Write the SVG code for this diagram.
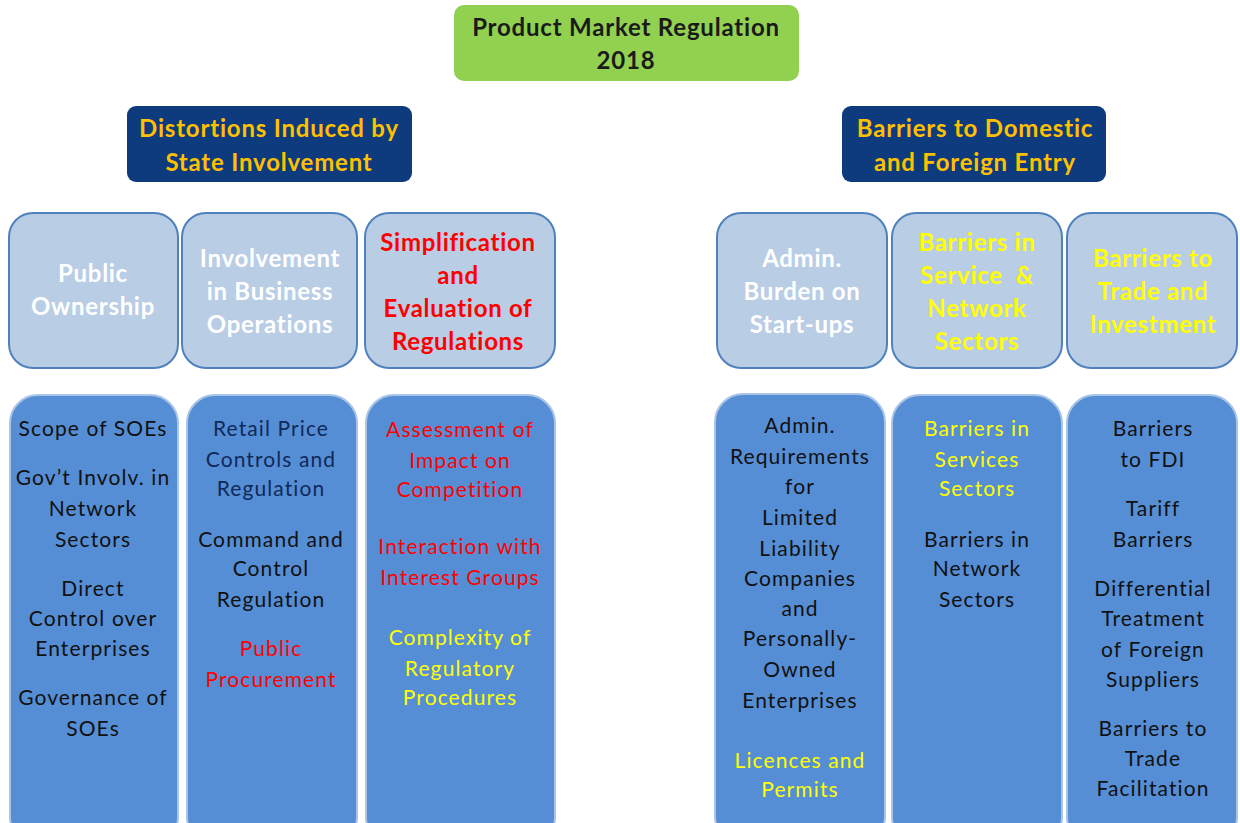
<svg xmlns="http://www.w3.org/2000/svg" width="1240" height="823" viewBox="0 0 1240 823">
<style>
text{font-family:Lato,"Liberation Sans",sans-serif;text-anchor:middle}
.t{font-size:24px;font-weight:bold;fill:#1a1a1a;letter-spacing:0.8px}
.h{font-size:24px;font-weight:bold;fill:#FFC000;letter-spacing:0.8px}
.m{font-size:24px;font-weight:bold;letter-spacing:0.7px}
.b{font-size:21px;letter-spacing:1.1px}
.hdr{fill:#0E3A7E}
.mid{fill:#B9CDE5;stroke:#4F81BD;stroke-width:2}
.bot{fill:#558ED5;stroke:#A9C4E6;stroke-width:2}
.w{fill:#ffffff}.r{fill:#FF0000}.y{fill:#FFFF00}.k{fill:#111111}.n{fill:#10295A}
</style>
<rect width="1240" height="823" fill="#ffffff"/>
<g id="title"><rect x="454" y="5" width="345" height="76" rx="10" fill="#92D050"/>
<text class="t" x="626" y="36">Product Market Regulation</text><text class="t" x="626" y="69">2018</text></g>
<g id="hdr-left"><rect class="hdr" x="127" y="106" width="285" height="76" rx="9"/>
<text class="h" x="269" y="137">Distortions Induced by</text><text class="h" x="269" y="171">State Involvement</text></g>
<g id="hdr-right"><rect class="hdr" x="842" y="106" width="264" height="76" rx="9"/>
<text class="h" x="975" y="137">Barriers to Domestic</text><text class="h" x="975" y="171">and Foreign Entry</text></g>

<g id="mid-public"><rect class="mid" x="9" y="213" width="169" height="155" rx="24"/>
<text class="m w" x="93" y="282">Public</text><text class="m w" x="93" y="315">Ownership</text></g>
<g id="mid-involvement"><rect class="mid" x="182" y="213" width="175" height="155" rx="24"/>
<text class="m w" x="270" y="267">Involvement</text><text class="m w" x="270" y="300">in Business</text><text class="m w" x="270" y="333">Operations</text></g>
<g id="mid-simplification"><rect class="mid" x="365" y="213" width="190" height="155" rx="24"/>
<text class="m r" x="458" y="251">Simplification</text><text class="m r" x="458" y="284">and</text><text class="m r" x="458" y="317">Evaluation of</text><text class="m r" x="458" y="350">Regulations</text></g>
<g id="mid-admin"><rect class="mid" x="717" y="213" width="170" height="155" rx="24"/>
<text class="m w" x="802" y="267">Admin.</text><text class="m w" x="802" y="300">Burden on</text><text class="m w" x="802" y="333">Start-ups</text></g>
<g id="mid-service"><rect class="mid" x="892" y="213" width="170" height="155" rx="24"/>
<text class="m y" x="977" y="251">Barriers in</text><text class="m y" x="977" y="284" xml:space="preserve">Service  &amp;</text><text class="m y" x="977" y="317">Network</text><text class="m y" x="977" y="350">Sectors</text></g>
<g id="mid-trade"><rect class="mid" x="1067" y="213" width="170" height="155" rx="24"/>
<text class="m y" x="1153" y="267">Barriers to</text><text class="m y" x="1153" y="300">Trade and</text><text class="m y" x="1153" y="333">Investment</text></g>

<g id="bot-public"><rect class="bot" x="10" y="395" width="168" height="450" rx="28"/>
<g class="b k"><text x="93" y="436">Scope of SOEs</text><text x="93" y="485">Gov’t Involv. in</text><text x="93" y="516">Network</text><text x="93" y="547">Sectors</text><text x="93" y="596">Direct</text><text x="93" y="626">Control over</text><text x="93" y="656">Enterprises</text><text x="93" y="705">Governance of</text><text x="93" y="736">SOEs</text></g></g>
<g id="bot-involvement"><rect class="bot" x="187" y="395" width="170" height="450" rx="28"/>
<g class="b"><text class="n" x="271" y="436">Retail Price</text><text class="n" x="271" y="467">Controls and</text><text class="n" x="271" y="496">Regulation</text><text class="k" x="271" y="547">Command and</text><text class="k" x="271" y="576">Control</text><text class="k" x="271" y="607">Regulation</text><text class="r" x="271" y="656">Public</text><text class="r" x="271" y="687">Procurement</text></g></g>
<g id="bot-simplification"><rect class="bot" x="366" y="395" width="189" height="450" rx="28"/>
<g class="b"><text class="r" x="460" y="437">Assessment of</text><text class="r" x="460" y="468">Impact on</text><text class="r" x="460" y="497">Competition</text><text class="r" x="460" y="554">Interaction with</text><text class="r" x="460" y="585">Interest Groups</text><text class="y" x="460" y="645">Complexity of</text><text class="y" x="460" y="676">Regulatory</text><text class="y" x="460" y="705">Procedures</text></g></g>
<g id="bot-admin"><rect class="bot" x="715" y="394" width="170" height="450" rx="28"/>
<g class="b"><text class="k" x="800" y="433">Admin.</text><text class="k" x="800" y="464">Requirements</text><text class="k" x="800" y="494">for</text><text class="k" x="800" y="525">Limited</text><text class="k" x="800" y="556">Liability</text><text class="k" x="800" y="586">Companies</text><text class="k" x="800" y="616">and</text><text class="k" x="800" y="646">Personally-</text><text class="k" x="800" y="677">Owned</text><text class="k" x="800" y="708">Enterprises</text><text class="y" x="800" y="768">Licences and</text><text class="y" x="800" y="797">Permits</text></g></g>
<g id="bot-service"><rect class="bot" x="892" y="395" width="170" height="450" rx="28"/>
<g class="b"><text class="y" x="977" y="436">Barriers in</text><text class="y" x="977" y="467">Services</text><text class="y" x="977" y="496">Sectors</text><text class="k" x="977" y="547">Barriers in</text><text class="k" x="977" y="576">Network</text><text class="k" x="977" y="607">Sectors</text></g></g>
<g id="bot-trade"><rect class="bot" x="1067" y="395" width="170" height="450" rx="28"/>
<g class="b k"><text x="1153" y="436">Barriers</text><text x="1153" y="467">to FDI</text><text x="1153" y="516">Tariff</text><text x="1153" y="547">Barriers</text><text x="1153" y="596">Differential</text><text x="1153" y="626">Treatment</text><text x="1153" y="657">of Foreign</text><text x="1153" y="687">Suppliers</text><text x="1153" y="736">Barriers to</text><text x="1153" y="766">Trade</text><text x="1153" y="796">Facilitation</text></g></g>
<g id="connectors"/>
</svg>
